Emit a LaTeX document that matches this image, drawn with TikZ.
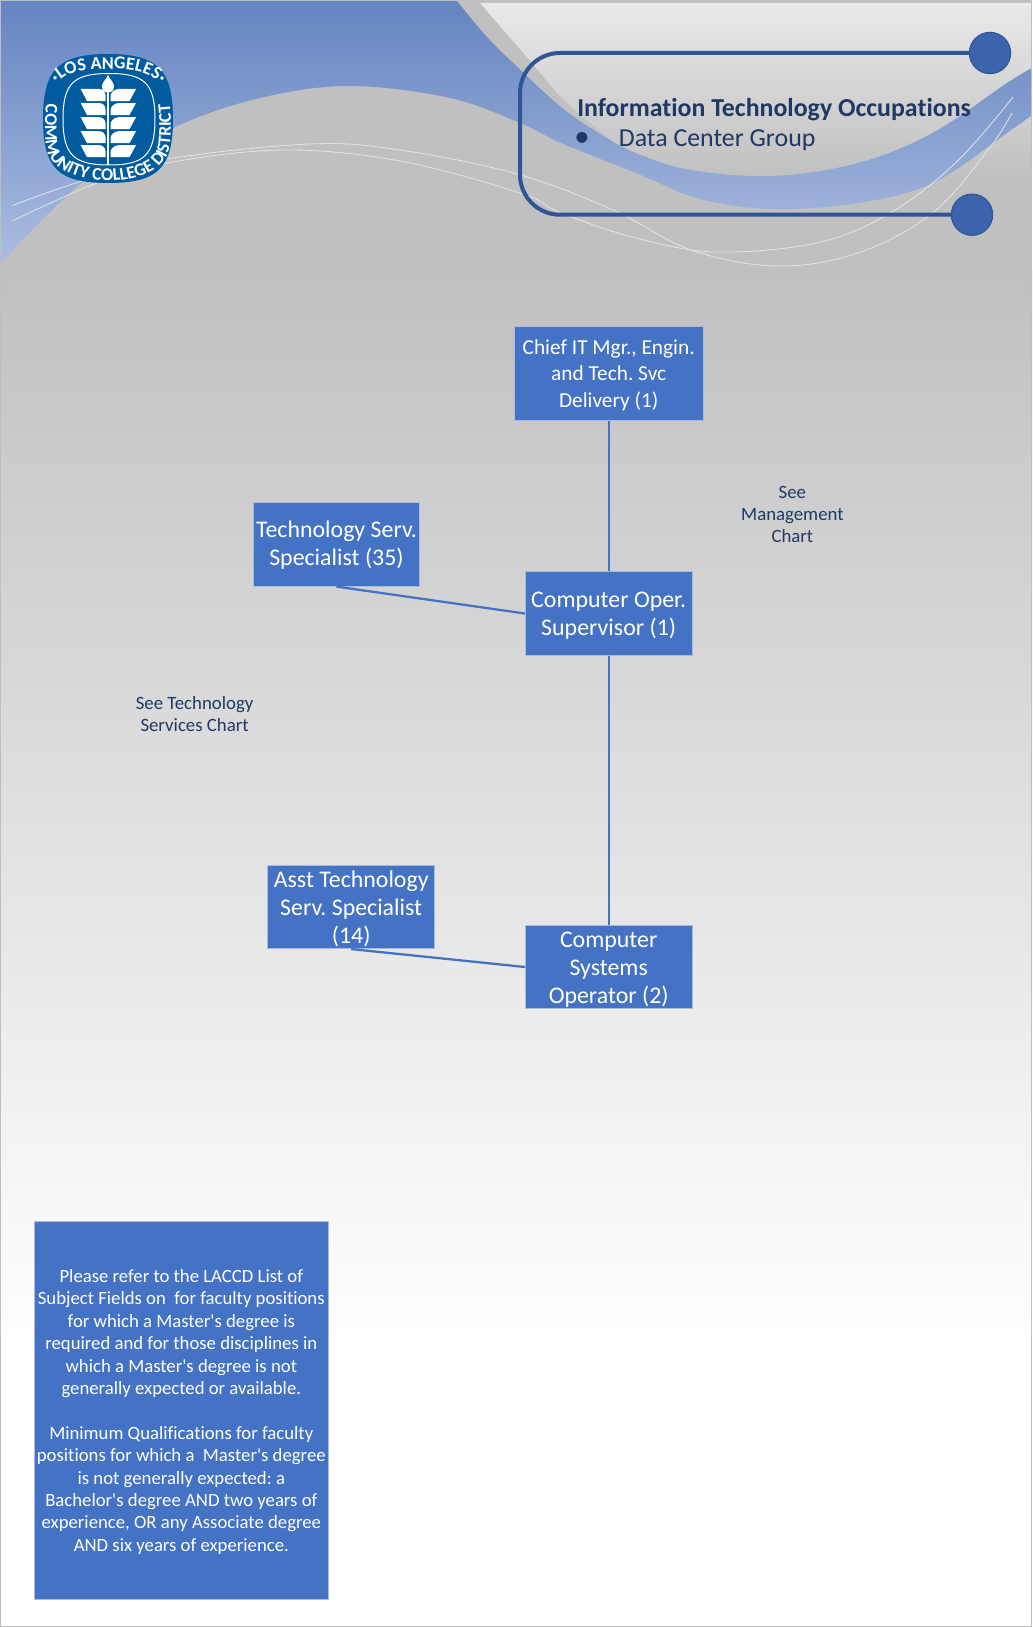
\documentclass[tikz,border=0pt]{standalone}
\usepackage{fontspec}
\setmainfont[Ligatures=NoCommon]{Carlito}
\newfontfamily\bodyfont[Ligatures=NoCommon]{Carlito}
\newfontfamily\logofont{Carlito}
\usetikzlibrary{decorations.text}
\definecolor{boxblue}{HTML}{4472C4}
\definecolor{boxedge}{HTML}{A9BBDD}
\definecolor{navy}{HTML}{1F3864}
\definecolor{ringblue}{HTML}{2F5597}
\definecolor{dotblue}{HTML}{3C63AC}
\definecolor{logoblue}{HTML}{005B9F}
\definecolor{swishgray}{HTML}{E4E4E4}
\newcommand{\fsz}[2]{\bodyfont\frenchspacing\fontsize{#1}{#2}\selectfont}
\newcommand{\dn}[1]{\rule{0pt}{#1}}
\tikzset{
  x=0.75pt,y=-0.75pt,
  orgbox/.style={draw=boxedge,line width=0.6pt,fill=boxblue,text=white,align=center,inner sep=0pt},
  boxlarge/.style={orgbox,font=\fsz{17.9}{21}},
  boxchief/.style={orgbox,font=\fsz{16}{19.9}},
  notebox/.style={orgbox,font=\fsz{14.05}{16.8}},
  seelabel/.style={text=navy,align=center,inner sep=0pt,font=\fsz{14.1}{16.5}},
  conn/.style={draw=boxblue,line width=1.7pt},
  swish/.style={draw=swishgray,line width=0.6pt},
  dot/.style={circle,draw=ringblue,line width=0.8pt,fill=dotblue,minimum size=31pt,inner sep=0pt},
}
\begin{document}
\begin{tikzpicture}
\useasboundingbox (0,0) rectangle (1032,1627);
% page background
\fill[white] (0,0) rectangle (1032,1627);
\fill[color={rgb,255:red,192;green,192;blue,192}] (0,0) rectangle (1032,270);
\shade[top color={rgb,255:red,192;green,192;blue,192},bottom color=white] (0,270) rectangle (1032,1340);
% light top-right area
\shade[top color={rgb,255:red,233;green,233;blue,233},bottom color={rgb,255:red,192;green,192;blue,192}]
  (1032,3) -- (480,3) -- plot[smooth,tension=0.5] coordinates {(480,3) (506,33) (532,63) (561,97) (595,127) (628,150) (700,177)}
  -- (1032,177) -- cycle;
% blue wave
\shade[top color={rgb,255:red,101;green,132;blue,193},bottom color={rgb,255:red,171;green,189;blue,224}]
  (1,1) -- (457,1)
  -- plot[smooth,tension=0.6] coordinates {(457,1) (487,37) (520.5,70) (561,107) (598.5,133) (635.6,153) (691,170) (773,176) (858,163) (932.5,133) (1007,83) (1032,68)}
  -- (1032,115)
  -- plot[smooth,tension=0.6] coordinates {(1032,115) (1007,133) (933,183) (858,203) (773,209) (700,199) (636,173) (561,143) (520,123) (450,98) (350,86) (260,98) (173,128) (85,180) (1,263)}
  -- cycle;
% thin swishes
\draw[swish] plot[smooth,tension=0.6] coordinates {(12,205.7) (80,181.7) (167,159) (310,144) (400,150) (517,174) (613,210) (691,250) (777,266) (858,253) (932.5,213) (988,150) (1012,113)};
\draw[swish] plot[smooth,tension=0.6] coordinates {(12,221) (97,183) (167,163) (283,150) (400,161) (520,193) (561,213) (636,238) (717,252) (821,242) (895,210) (958.5,160) (1013,97)};
% page border
\draw[color={rgb,255:red,190;green,190;blue,190},line width=0.75pt] (0.5,0.5) rectangle (1031.5,1626.5);
% logo
\fill[logoblue] (108,54) .. controls (158,54) and (173,70) .. (173,119) .. controls (173,168) and (158,183) .. (108,183)
  .. controls (58,183) and (43,168) .. (43,119) .. controls (43,70) and (58,54) .. (108,54) -- cycle;
\draw[white,line width=0.75pt] (109,73.5) .. controls (144,73.5) and (155,83) .. (155,119) .. controls (155,155) and (144,165) .. (109,165)
  .. controls (74,165) and (63,155) .. (63,119) .. controls (63,83) and (74,73.5) .. (109,73.5) -- cycle;
\path[decorate,decoration={text along path,text align=center,raise=0pt,
  text={|\color{white}\logofont\bfseries\fontsize{13.6}{15}\selectfont|·LOS ANGELES·}}]
  (52,92) .. controls (62,70) and (85,69) .. (108,69) .. controls (131,69) and (154,70) .. (166,92);
\path[decorate,decoration={text along path,text align=center,
  text={|\color{white}\logofont\bfseries\fontsize{13.4}{15}\selectfont|COMMUNITY COLLEGE DISTRICT}}]
  (50,84) .. controls (44,105) and (44,135) .. (47,150) .. controls (53,173) and (85,181) .. (108,181)
  .. controls (131,181) and (163,173) .. (169,150) .. controls (172,135) and (172,105) .. (166,84);
\fill[white] (108,75) .. controls (106,80) and (102,82) .. (102,86.5) .. controls (102,95) and (114,95) .. (114,86.5) .. controls (114,82) and (110,80) .. (108,75) -- cycle;
\fill[white] (107.1,90) rectangle (108.9,164.5);
\foreach \yy in {89,103,117.2,131.2,145.2}{
  \fill[white] (80.7,\yy) -- (99,\yy) .. controls (103,\yy) and (105.5,\yy+3) .. (105.5,\yy+6) -- (105.5,\yy+12) -- (87,\yy+12) -- cycle;
  \fill[white] (136,\yy) -- (119,\yy) .. controls (114,\yy) and (110.5,\yy+4) .. (110.5,\yy+7) -- (110.5,\yy+12) -- (129.5,\yy+12) -- cycle;
}
% title card
\node[dot] (c1) at (990,53) {};
\node[dot] (c2) at (972,214.7) {};
\draw[ringblue,line width=3pt,rounded corners=30pt] (c1.west) -- (520,53) -- (520,214.7) -- (c2.west);
\node[anchor=west,inner sep=0pt,text=navy,font=\fsz{19.4}{22}\bfseries] (title) at (577,110) {Information Technology Occupations};
\node[anchor=west,inner sep=0pt,text=navy,font=\fsz{19.4}{22}] (bul) at (574,140) {{\fontsize{23}{22}\selectfont •}\hspace{22pt}Data Center Group};
% org boxes
\node[boxchief,minimum width=142pt,minimum height=71pt] (chief) at (608.7,373.5) {\dn{13.8pt}Chief IT Mgr., Engin.\\and Tech. Svc\\Delivery (1)};
\node[boxlarge,minimum width=125pt,minimum height=62.5pt] (tech) at (336.5,544.5) {\dn{14pt}Technology Serv.\\Specialist (35)};
\node[boxlarge,minimum width=125pt,minimum height=62.5pt] (oper) at (608.7,613.5) {\dn{14.4pt}Computer Oper.\\Supervisor (1)};
\node[boxlarge,minimum width=125pt,minimum height=62.5pt] (asst) at (351.2,907) {\dn{15pt}Asst Technology\\Serv. Specialist\\(14)};
\node[boxlarge,minimum width=125pt,minimum height=62.5pt] (comp) at (608.7,967) {\dn{16pt}Computer\\Systems\\Operator (2)};
\draw[conn] (chief.south) -- (oper.north);
\draw[conn] (oper.south) -- (comp.north);
\draw[conn] (tech.south) -- (oper.west);
\draw[conn] (asst.south) -- (comp.west);
\node[seelabel] (seemgmt) at (792.4,514) {See\\Management\\Chart};
\node[seelabel] (seetech) at (194.6,714) {See Technology\\Services Chart};
% note
\node[notebox,minimum width=220.5pt,minimum height=283pt] (note) at (181.3,1410.3) {\dn{12pt}Please refer to the LACCD List of\\Subject Fields on \ for faculty positions\\for which a Master's degree is\\required and for those disciplines in\\which a Master's degree is not\\generally expected or available.\\[16.8pt]Minimum Qualifications for faculty\\positions for which a \ Master's degree\\is not generally expected: a\\Bachelor's degree AND two years of\\experience, OR any Associate degree\\AND six years of experience.};
\end{tikzpicture}
\end{document}
